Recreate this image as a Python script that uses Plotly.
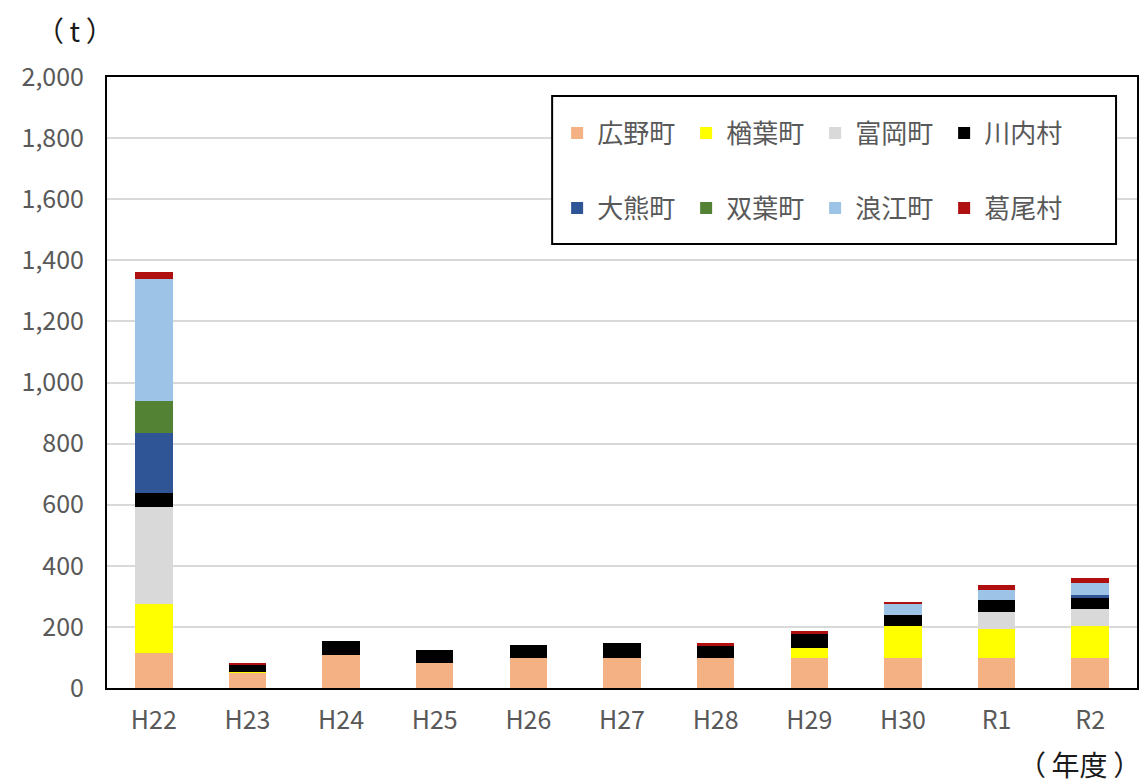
import plotly.graph_objects as go

# 年度
years = ["H22", "H23", "H24", "H25", "H26", "H27", "H28", "H29", "H30", "R1", "R2"]

# 町村別の量（t）
hirono  = [115, 50, 107, 83, 99, 99, 99, 99, 99, 99, 99]
naraha  = [159, 1, 0, 0, 0, 0, 0, 31, 103, 94, 103]
tomioka = [317, 0, 0, 0, 0, 0, 0, 0, 0, 57, 56]
kawauchi = [48, 23, 48, 41, 41, 48, 39, 48, 38, 38, 38]
okuma   = [196, 0, 0, 0, 0, 0, 0, 0, 0, 0, 9]
futaba  = [105, 0, 0, 0, 0, 0, 0, 0, 0, 0, 0]
namie   = [398, 0, 0, 0, 0, 0, 0, 0, 34, 33, 40]
katsurao = [24, 9, 0, 0, 0, 0, 8, 9, 7, 16, 16]

names = ["広野町", "楢葉町", "富岡町", "川内村", "大熊町", "双葉町", "浪江町", "葛尾村"]
values = [hirono, naraha, tomioka, kawauchi, okuma, futaba, namie, katsurao]
colors = ["#F4B183", "#FFFF00", "#D9D9D9", "#000000",
          "#2F5597", "#548235", "#9DC3E6", "#AF0F0F"]

y_ticks = list(range(0, 2001, 200))

FONT = "Noto Sans CJK JP"
GREY = "#595959"

# page geometry of the plot area (px)
W, H = 1141, 784
L, R, T, B = 107, 2, 77, 96
PW, PH = W - L - R, H - T - B


def px_x(x):
    return (x - L) / PW


def px_y(y):
    return (H - B - y) / PH


fig = go.Figure()
for i, (name, vals, col) in enumerate(zip(names, values, colors)):
    fig.add_trace(go.Bar(
        x=years, y=vals, name=name,
        marker=dict(color=col, line=dict(width=0)),
        legend="legend" if i < 4 else "legend2",
    ))

legend_common = dict(
    orientation="h",
    xanchor="left", yanchor="middle",
    bgcolor="rgba(0,0,0,0)", borderwidth=0,
    font=dict(family=FONT, size=26, color=GREY),
    entrywidth=84, traceorder="normal",
    itemclick=False, itemdoubleclick=False,
)

# thin spaces give the brackets some room
TS = "\u2009"

fig.update_layout(
    width=W, height=H,
    margin=dict(l=L, r=R, t=T, b=B),
    paper_bgcolor="white", plot_bgcolor="white",
    barmode="stack", bargap=0.6,
    font=dict(family=FONT, color=GREY),
    legend=dict(x=px_x(558), y=px_y(133), **legend_common),
    legend2=dict(x=px_x(558), y=px_y(208), **legend_common),
    xaxis=dict(
        showline=True, linecolor="black", linewidth=2, mirror=True,
        showgrid=False, ticks="",
        tickfont=dict(family=FONT, size=25, color=GREY),
        ticklabelstandoff=9,
    ),
    yaxis=dict(
        range=[0, 2000], tickvals=y_ticks, tickformat=",",
        showline=True, linecolor="black", linewidth=2, mirror=True,
        showgrid=True, gridcolor="#D9D9D9", gridwidth=2,
        zeroline=False, ticks="",
        tickfont=dict(family=FONT, size=25, color=GREY),
        ticklabelstandoff=16,
    ),
    shapes=[dict(
        type="rect", xref="paper", yref="paper",
        x0=px_x(553), x1=px_x(1118), y0=px_y(244), y1=px_y(96),
        line=dict(color="black", width=2), fillcolor="white", layer="above",
    )],
    annotations=[
        dict(text="（" + TS + "t" + TS + "）", xref="paper", yref="paper",
             x=px_x(75), y=px_y(30),
             xanchor="center", yanchor="middle", showarrow=False,
             font=dict(family=FONT, size=28, color="#1A1A1A")),
        dict(text="（" + TS + "年度" + TS + "）", xref="paper", yref="paper",
             x=px_x(1081), y=px_y(764),
             xanchor="center", yanchor="middle", showarrow=False,
             font=dict(family=FONT, size=28, color="#1A1A1A")),
    ],
)

fig.write_html("out.html")
